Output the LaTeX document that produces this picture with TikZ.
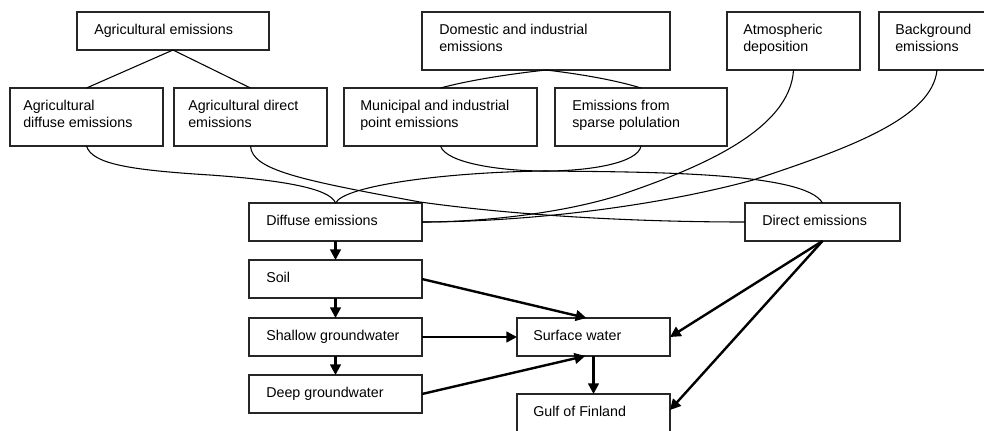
\documentclass[tikz,border=0pt]{standalone}
\usepackage{fontspec}
\setmainfont{Liberation Sans}
\usetikzlibrary{fit,arrows.meta}
\begin{document}
\begin{tikzpicture}[x=0.75pt,y=-0.75pt,
  box/.style={draw=black!85,line width=0.9pt,inner sep=0pt,outer sep=0pt,rectangle},
  txt/.style={inner sep=0pt,anchor=base west,align=left,font=\fontsize{10.7}{13.1}\selectfont},
  link/.style={line width=0.8pt,black},
  flow/.style={line width=1.8pt,black,-{Triangle[length=8pt,width=8pt]}}]
\useasboundingbox (0,0) rectangle (984,430);
\fill[white] (0,0) rectangle (984,430);
% boxes
\node[box,fit={(77,12)(269,50)}] (agem) {};
\node[box,fit={(422,12)(670,70)}] (dom) {};
\node[box,fit={(727,12)(860,70)}] (atm) {};
\node[box,fit={(879,12)(995,70)}] (bg) {};
\node[box,fit={(10,88)(163,146)}] (agdiff) {};
\node[box,fit={(174,88)(327,146)}] (agdir) {};
\node[box,fit={(344,88)(537,146)}] (mun) {};
\node[box,fit={(555,88)(727,146)}] (sparse) {};
\node[box,fit={(249,203)(422,241)}] (diff) {};
\node[box,fit={(745,203)(900,241)}] (direct) {};
\node[box,fit={(249,260)(422,298)}] (soil) {};
\node[box,fit={(249,318)(422,356)}] (shallow) {};
\node[box,fit={(249,375)(422,413)}] (deep) {};
\node[box,fit={(517,318)(670,356)}] (surf) {};
\node[box,fit={(517,394)(670,434)}] (gulf) {};
% texts (two-line texts are placed by the baseline of their last line)
\node[txt] (t-agem) at (94,34) {Agricultural emissions};
\node[txt] (t-dom) at (439,51.5) {Domestic and industrial\\emissions};
\node[txt] (t-atm) at (743,51.5) {Atmospheric\\deposition};
\node[txt] (t-bg) at (895,51.5) {Background\\emissions};
\node[txt] (t-agdiff) at (23,127.5) {Agricultural\\diffuse emissions};
\node[txt] (t-agdir) at (188,127.5) {Agricultural direct\\emissions};
\node[txt] (t-mun) at (360,127.5) {Municipal and industrial\\point emissions};
\node[txt] (t-sparse) at (572,127.5) {Emissions from\\sparse polulation};
\node[txt] (t-diff) at (266,225) {Diffuse emissions};
\node[txt] (t-direct) at (762,225) {Direct emissions};
\node[txt] (t-soil) at (266,282) {Soil};
\node[txt] (t-shallow) at (266,340) {Shallow groundwater};
\node[txt] (t-deep) at (266,397) {Deep groundwater};
\node[txt] (t-surf) at (533,340) {Surface water};
\node[txt] (t-gulf) at (533,416) {Gulf of Finland};
% thin connectors
\draw[link] (agem.south) -- (agdiff.north);
\draw[link] (agem.south) -- (agdir.north);
\draw[link] (dom.south) .. controls (510,74) and (470,80) .. (mun.north);
\draw[link] (dom.south) .. controls (580,74) and (615,80) .. (sparse.north);
\draw[link] (agdiff.south) .. controls (92,164) and (130,170) .. (210,175)
  .. controls (280,180) and (330,188) .. (diff.north);
\draw[link] (agdir.south) .. controls (252,170) and (300,180) .. (420,202)
  .. controls (520,216) and (640,222) .. (direct.west);
\draw[link] (mun.south) .. controls (446,163) and (500,171) .. (545,171)
  .. controls (650,172) and (805,172) .. (direct.north);
\draw[link] (sparse.south) .. controls (638,163) and (590,171) .. (545,171)
  .. controls (450,172) and (345,185) .. (diff.north);
\draw[link] (atm.south) .. controls (790,130) and (700,168) .. (620,195)
  .. controls (560,214) and (480,222) .. (diff.east);
\draw[link] (bg.south) .. controls (932,118) and (850,148) .. (753,180)
  .. controls (650,208) and (520,222) .. (diff.east);
% flow arrows
\draw[flow] (diff.south) -- (soil.north);
\draw[flow] (soil.south) -- (shallow.north);
\draw[flow] (shallow.south) -- (deep.north);
\draw[flow] (soil.east) -- ([xshift=-5.3pt]surf.north);
\draw[flow] (shallow.east) -- (surf.west);
\draw[flow] (deep.east) -- ([xshift=-6.2pt]surf.south);
\draw[flow] (surf.south) -- (gulf.north);
\draw[flow] (direct.south) -- (surf.east);
\draw[flow] (direct.south) -- ([yshift=3pt]gulf.east);
\end{tikzpicture}
\end{document}
